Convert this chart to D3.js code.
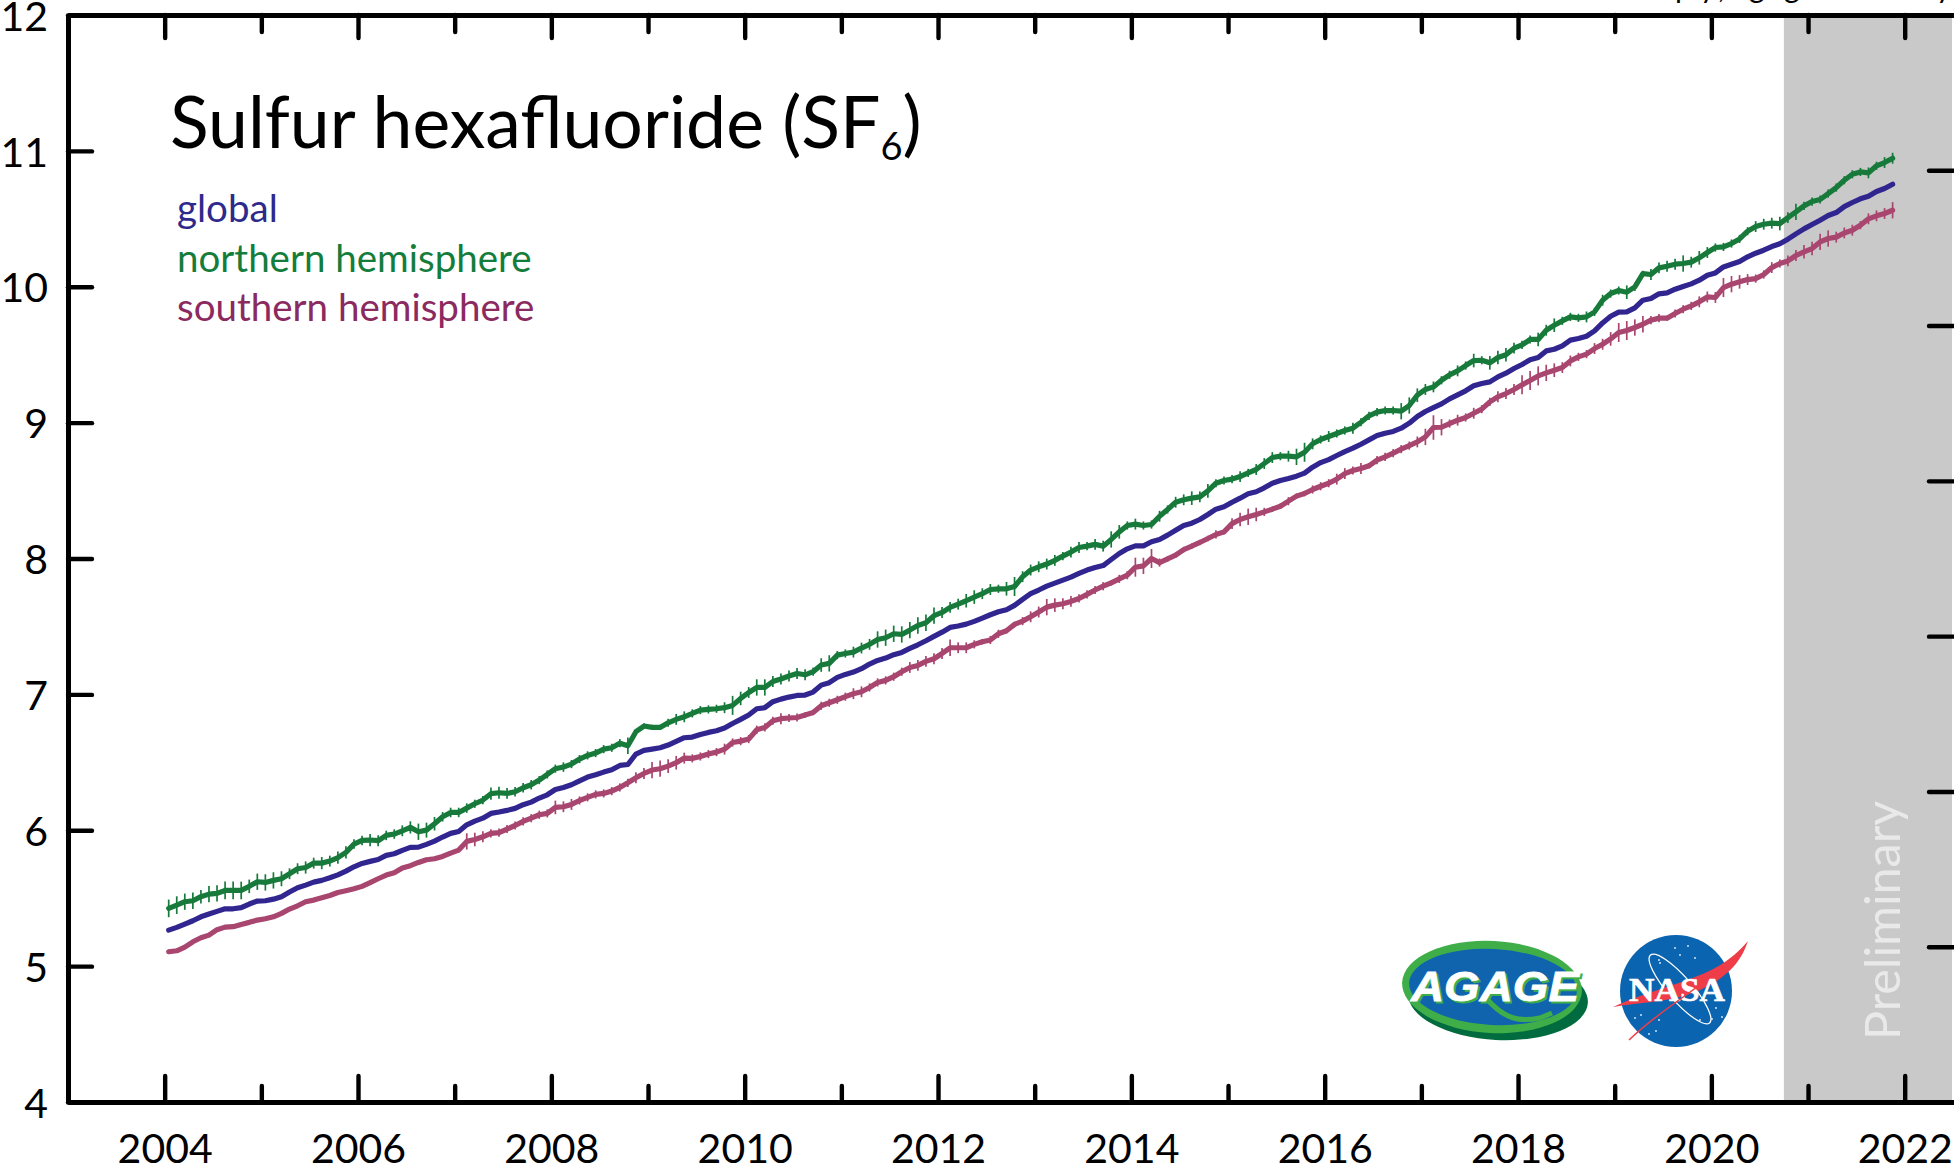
<!DOCTYPE html>
<html>
<head>
<meta charset="utf-8">
<title>Sulfur hexafluoride</title>
<script src="https://cdn.jsdelivr.net/npm/d3@7"></script>
<style>
  html, body { margin: 0; padding: 0; background: #fff; }
  svg { display: block; font-family: Lato, "Open Sans", sans-serif; }
</style>
</head>
<body>
<div id="chart"></div>
<script>
// monthly SF6 mole fractions (ppt), first value is January 2004
const globalValues = [
  5.265,5.285,5.309,5.334,5.363,5.383,5.403,5.422,5.422,5.430,5.457,5.479,
  5.481,5.493,5.511,5.545,5.577,5.596,5.618,5.631,5.650,5.672,5.699,5.731,
  5.756,5.771,5.785,5.815,5.827,5.852,5.874,5.876,5.896,5.920,5.950,5.977,
  5.991,6.040,6.067,6.089,6.124,6.134,6.146,6.161,6.188,6.207,6.237,6.261,
  6.300,6.315,6.335,6.364,6.391,6.408,6.428,6.445,6.477,6.484,
  6.561,6.588,6.597,6.607,6.627,6.654,6.681,6.686,6.705,6.720,6.732,6.752,
  6.786,6.816,6.848,6.894,6.902,6.946,6.965,6.980,6.992,6.995,7.017,7.068,
  7.086,7.125,7.147,7.164,7.189,7.223,7.250,7.267,7.292,7.309,7.338,7.365,
  7.395,7.427,7.458,7.493,7.503,7.517,7.537,7.561,7.586,7.608,7.623,7.655,
  7.699,7.741,7.768,7.797,7.819,7.841,7.863,7.890,7.915,7.934,
  7.948,7.993,8.037,8.071,8.093,8.093,8.123,8.140,8.172,8.208,8.243,8.260,
  8.287,8.324,8.363,8.380,8.414,8.444,8.476,8.491,8.520,8.554,8.574,8.589,
  8.606,8.628,8.672,8.706,8.728,8.758,8.787,8.812,8.841,8.873,8.905,8.922,
  8.935,8.959,8.996,9.045,9.082,9.111,9.138,9.175,9.204,9.234,9.271,9.288,
  9.300,9.337,9.364,9.398,9.428,9.462,9.479,9.528,
  9.540,9.565,9.607,9.619,9.636,9.675,9.734,9.783,9.813,9.815,9.845,9.901,
  9.913,9.948,9.955,9.982,10.002,10.021,10.048,10.085,10.102,10.146,10.166,10.186,
  10.220,10.247,10.269,10.296,10.316,10.350,10.389,10.426,10.458,10.490,10.524,10.546,
  10.590,10.620,10.647,10.666,10.701,10.723,10.755
];
const northValues = [
  5.425,5.449,5.474,5.481,5.511,5.530,5.535,5.557,5.557,5.557,5.587,5.621,
  5.616,5.631,5.643,5.680,5.717,5.726,5.758,5.758,5.773,5.798,5.837,5.898,
  5.925,5.928,5.923,5.962,5.972,5.996,6.021,5.989,6.001,6.048,6.099,6.131,
  6.131,6.163,6.195,6.222,6.269,6.276,6.271,6.283,6.313,6.335,6.369,6.411,
  6.453,6.465,6.487,6.524,6.551,6.568,6.597,6.607,6.641,6.622,
  6.725,6.767,6.757,6.757,6.791,6.816,6.835,6.860,6.884,6.889,6.894,6.902,
  6.919,6.970,7.014,7.051,7.051,7.095,7.113,7.135,7.154,7.144,7.167,7.216,
  7.228,7.289,7.301,7.311,7.341,7.368,7.404,7.417,7.446,7.441,7.473,7.507,
  7.527,7.579,7.603,7.640,7.664,7.689,7.716,7.741,7.772,7.777,7.777,7.794,
  7.866,7.915,7.939,7.959,7.986,8.018,8.047,8.081,8.091,8.104,
  8.091,8.140,8.196,8.243,8.253,8.243,8.250,8.311,8.361,8.414,8.432,8.444,
  8.454,8.498,8.554,8.574,8.584,8.603,8.630,8.655,8.699,8.743,8.753,8.753,
  8.748,8.782,8.844,8.876,8.898,8.920,8.942,8.959,9.003,9.050,9.077,9.089,
  9.089,9.084,9.126,9.202,9.244,9.263,9.312,9.352,9.381,9.420,9.457,9.459,
  9.440,9.479,9.499,9.548,9.572,9.612,9.612,9.680,
  9.717,9.749,9.778,9.771,9.778,9.815,9.901,9.950,9.972,9.960,9.999,10.097,
  10.090,10.139,10.151,10.166,10.171,10.181,10.213,10.252,10.289,10.293,10.318,10.352,
  10.409,10.443,10.460,10.468,10.465,10.509,10.551,10.595,10.627,10.642,10.686,10.730,
  10.784,10.828,10.845,10.838,10.890,10.914,10.946
];
const southValues = [
  5.106,5.113,5.140,5.179,5.209,5.228,5.268,5.287,5.290,5.307,5.322,5.339,
  5.349,5.363,5.388,5.420,5.444,5.474,5.486,5.503,5.520,5.542,5.555,5.569,
  5.587,5.614,5.643,5.670,5.687,5.722,5.739,5.763,5.783,5.790,5.807,5.832,
  5.854,5.918,5.932,5.952,5.977,5.982,6.009,6.035,6.065,6.089,6.114,6.124,
  6.168,6.173,6.190,6.219,6.242,6.264,6.271,6.288,6.315,6.349,
  6.386,6.418,6.443,6.453,6.472,6.497,6.531,6.529,6.543,6.561,6.575,6.597,
  6.646,6.656,6.671,6.740,6.757,6.806,6.821,6.826,6.830,6.848,6.867,6.916,
  6.938,6.960,6.983,7.005,7.019,7.051,7.088,7.103,7.130,7.167,7.198,7.213,
  7.243,7.262,7.301,7.343,7.343,7.343,7.368,7.387,7.400,7.446,7.468,7.515,
  7.539,7.571,7.606,7.642,7.657,7.667,7.684,7.706,7.736,7.768,
  7.796,7.821,7.850,7.877,7.936,7.946,8.000,7.970,7.997,8.024,8.066,8.091,
  8.118,8.147,8.177,8.196,8.257,8.287,8.307,8.324,8.343,8.363,8.385,8.422,
  8.459,8.478,8.508,8.532,8.554,8.584,8.625,8.648,8.662,8.682,8.724,8.748,
  8.775,8.805,8.831,8.858,8.895,8.964,8.966,8.993,9.018,9.038,9.069,9.099,
  9.153,9.190,9.214,9.244,9.278,9.310,9.344,9.366,
  9.386,9.405,9.454,9.484,9.504,9.545,9.577,9.616,9.663,9.678,9.700,9.724,
  9.754,9.769,9.769,9.803,9.835,9.859,9.889,9.925,9.921,9.994,10.019,10.036,
  10.053,10.060,10.090,10.141,10.171,10.190,10.230,10.257,10.281,10.330,10.355,10.365,
  10.396,10.416,10.453,10.500,10.522,10.539,10.563
];
// half length of the error bars (ppt)
const northErrors = [
  .065,.065,.06,.06,.05,.06,.06,.065,.065,.065,.05,.06,.06,.06,.055,.04,.04,.045,.04,.045,
  .04,.045,.045,.035,.035,.045,.04,.035,.035,.04,.045,.06,.055,.05,.035,.035,.035,.035,.03,.03,
  .045,.045,.04,.035,.035,.035,.03,.03,.03,.035,.03,.03,.03,.03,.03,.03,.03,.06,
  .02,.02,.02,.02,.03,.04,.04,.03,.03,.03,.03,.04,.07,.05,.04,.06,.06,.04,.04,.04,
  .04,.04,.03,.05,.06,.03,.03,.04,.04,.04,.06,.06,.06,.06,.06,.06,.06,.06,.04,.04,
  .04,.05,.05,.04,.04,.03,.05,.07,.04,.04,.04,.04,.04,.03,.04,.04,.03,.04,
  .04,.06,.05,.03,.04,.03,.03,.04,.03,.04,.04,.05,.04,.05,.03,.03,.03,.04,.03,.04,
  .04,.04,.03,.04,.06,.07,.04,.03,.04,.03,.03,.04,.03,.03,.03,.03,.03,.06,.06,.05,
  .04,.04,.03,.03,.04,.03,.05,.03,.05,.05,.05,.04,.03,.03,.05,.04,
  .05,.03,.03,.03,.04,.03,.04,.03,.03,.05,.03,.02,.04,.04,.04,.04,.06,.04,.05,.04,
  .03,.03,.03,.03,.03,.04,.04,.04,.05,.04,.06,.03,.03,.03,.03,.03,.03,.03,.03,.04,
  .03,.04,.04
];
const southErrors = [
  .015,.015,.015,.015,.015,.015,.015,.015,.015,.015,.015,.015,.015,.015,.015,.015,.015,.015,.015,.015,
  .015,.015,.015,.015,.015,.015,.015,.015,.015,.015,.015,.015,.015,.015,.015,.015,.015,.06,.05,.04,
  .03,.03,.03,.03,.03,.03,.03,.03,.05,.04,.04,.03,.03,.03,.03,.03,.03,.03,
  .04,.04,.06,.06,.05,.05,.04,.03,.03,.03,.03,.04,.03,.03,.03,.03,.03,.03,.04,.03,
  .03,.02,.02,.03,.03,.03,.03,.04,.04,.03,.03,.03,.03,.03,.04,.04,.04,.04,.04,.06,
  .04,.04,.03,.02,.03,.03,.02,.02,.03,.04,.04,.06,.05,.04,.04,.03,.03,.03,
  .03,.02,.03,.03,.07,.06,.07,.03,.02,.02,.02,.02,.02,.02,.03,.02,.04,.05,.06,.05,
  .03,.02,.02,.03,.02,.02,.03,.03,.03,.04,.04,.03,.04,.02,.03,.03,.03,.03,.03,.04,
  .06,.09,.06,.03,.04,.03,.04,.03,.03,.04,.04,.04,.07,.07,.07,.06,
  .05,.04,.04,.03,.03,.04,.04,.05,.07,.07,.06,.06,.03,.03,.02,.03,.03,.03,.04,.04,
  .04,.07,.06,.05,.04,.03,.03,.04,.03,.04,.04,.05,.05,.06,.06,.04,.04,.04,.03,.04,
  .04,.04,.06
];
const yTicks = [4, 5, 6, 7, 8, 9, 10, 11, 12];
const rightTicks = [0, 1, 2, 3, 4, 5, 6, 7];
const majorYears = [2004, 2006, 2008, 2010, 2012, 2014, 2016, 2018, 2020, 2022];
const minorYears = [2005, 2007, 2009, 2011, 2013, 2015, 2017, 2019, 2021];
const legendLabels = ["global", "northern hemisphere", "southern hemisphere"];
const firstYear = 2004;
const preliminaryStart = 2020.75;

const width = 1954;
const height = 1171;
const plot = { left: 68, right: 1954, top: 15, bottom: 1102 };

const svg = d3.select("#chart").append("svg").attr("width", width).attr("height", height);

const xScale = d3.scaleLinear().domain([2003, 2022.51]).range([plot.left, plot.right]);
const yScale = d3.scaleLinear().domain([4, 12]).range([plot.bottom, plot.top]);
const rightScale = d3.scaleLinear().domain([0, 7]).range([plot.bottom, plot.top]);

// mid month
const monthX = (i) => xScale(firstYear + (i + 0.5) / 12);

// preliminary band
svg.append("rect")
  .attr("x", xScale(preliminaryStart))
  .attr("y", plot.top)
  .attr("width", 1952 - xScale(preliminaryStart))
  .attr("height", plot.bottom - plot.top)
  .attr("fill", "#c9c9c9");

svg.append("text")
  .attr("transform", "translate(1900,1040) rotate(-90)")
  .attr("font-size", 48.5)
  .attr("fill", "#e9e9e9")
  .text("Preliminary");

// series
const lineGen = d3.line().x((d, i) => monthX(i)).y((d) => yScale(d));

function drawErrors(values, errors, color) {
  svg.append("g")
    .selectAll("line")
    .data(values)
    .join("line")
    .attr("x1", (d, i) => monthX(i))
    .attr("x2", (d, i) => monthX(i))
    .attr("y1", (d, i) => yScale(d - errors[i]))
    .attr("y2", (d, i) => yScale(d + errors[i]))
    .attr("stroke", color)
    .attr("stroke-width", 1.7);
}

function drawLine(values, color) {
  svg.append("path")
    .datum(values)
    .attr("d", lineGen)
    .attr("fill", "none")
    .attr("stroke", color)
    .attr("stroke-width", 5.2)
    .attr("stroke-linejoin", "round")
    .attr("stroke-linecap", "round");
}

drawErrors(northValues, northErrors, "#177a3a");
drawErrors(southValues, southErrors, "#a8466f");
drawLine(southValues, "#a8466f");
drawLine(northValues, "#177a3a");
drawLine(globalValues, "#31268f");

// axes
function styleAxis(g) {
  g.selectAll("path.domain").attr("stroke", "#000").attr("stroke-width", 5);
  g.selectAll(".tick line").attr("stroke", "#000").attr("stroke-width", 4.4).attr("stroke-linecap", "round");
  g.selectAll(".tick text").attr("fill", "#000").attr("font-family", "Lato").attr("font-size", 41);
}

svg.append("g").attr("transform", `translate(${plot.left},0)`)
  .call(d3.axisLeft(yScale).tickValues(yTicks).tickSize(-24).tickSizeOuter(0).tickPadding(20))
  .call(styleAxis)
  .call((g) => g.selectAll(".tick text").attr("dy", "0.37em"));

svg.append("g").attr("transform", `translate(${plot.right},0)`)
  .call(d3.axisRight(rightScale).tickValues(rightTicks).tickSize(-25).tickSizeOuter(0).tickFormat(""))
  .call(styleAxis)
  .call((g) => g.select("path.domain").remove());

svg.append("g").attr("transform", `translate(0,${plot.bottom})`)
  .call(d3.axisBottom(xScale).tickValues(majorYears).tickSize(-26).tickSizeOuter(0).tickPadding(32).tickFormat(d3.format("d")))
  .call(styleAxis);
svg.append("g").attr("transform", `translate(0,${plot.bottom})`)
  .call(d3.axisBottom(xScale).tickValues(minorYears).tickSize(-16).tickSizeOuter(0).tickFormat(""))
  .call(styleAxis);
svg.append("g").attr("transform", `translate(0,${plot.top})`)
  .call(d3.axisTop(xScale).tickValues(majorYears).tickSize(-23).tickSizeOuter(0).tickFormat(""))
  .call(styleAxis);
svg.append("g").attr("transform", `translate(0,${plot.top})`)
  .call(d3.axisTop(xScale).tickValues(minorYears).tickSize(-17).tickSizeOuter(0).tickFormat(""))
  .call(styleAxis);

// title
const title = svg.append("text")
  .attr("x", 170)
  .attr("y", 148)
  .attr("font-size", 71.5)
  .attr("fill", "#000")
  .text("Sulfur hexafluoride (SF");
title.append("tspan").attr("font-size", 38).attr("dy", 12).text("6");
title.append("tspan").attr("dy", -12).text(")");

// legend
const legendColors = ["#2e2a8c", "#157d3c", "#8b2a5f"];
svg.append("g")
  .selectAll("text")
  .data(legendLabels)
  .join("text")
  .attr("x", 177)
  .attr("y", (d, i) => 222 + i * 49.5)
  .attr("font-size", 38.5)
  .attr("fill", (d, i) => legendColors[i])
  .text((d) => d);

// text cut off by the top edge in the source image
const cutLetters = [["p", 1675], ["y", 1700], [",", 1718], ["g", 1749], ["g", 1784], ["y", 1936]];
svg.append("g")
  .selectAll("text")
  .data(cutLetters)
  .join("text")
  .attr("x", (d) => d[1])
  .attr("y", -2)
  .attr("font-size", 30)
  .attr("fill", "#000")
  .text((d) => d[0]);

// AGAGE logo
const agage = svg.append("g");
agage.append("ellipse").attr("cx", 1498).attr("cy", 998).attr("rx", 90).attr("ry", 42).attr("fill", "#006b3f").attr("transform", "rotate(3 1498 998)");
agage.append("ellipse").attr("cx", 1492).attr("cy", 987).attr("rx", 90).attr("ry", 46).attr("fill", "#3fae49").attr("transform", "rotate(3 1492 987)");
agage.append("ellipse").attr("cx", 1493).attr("cy", 987).attr("rx", 84).attr("ry", 38).attr("fill", "#1064ae").attr("transform", "rotate(3 1493 987)");
agage.append("path")
  .attr("d", "M1486,998 C1505,1020 1520,1022 1540,1018 L1552,1013")
  .attr("fill", "none").attr("stroke", "#3fae49").attr("stroke-width", 5);
const agageText = (dx, dy, color) => agage.append("text")
  .attr("x", 1411 + dx)
  .attr("y", 1001 + dy)
  .attr("font-family", "Liberation Sans")
  .attr("font-weight", "bold")
  .attr("font-style", "italic")
  .attr("font-size", 42)
  .attr("textLength", 168)
  .attr("lengthAdjust", "spacingAndGlyphs")
  .attr("fill", color)
  .attr("stroke", color)
  .attr("stroke-width", 0.8)
  .text("AGAGE");
agageText(2, 2, "#3fae49");
agageText(0, 0, "#fff");

// NASA logo
const nasaStars = [[1688, 946], [1675, 948], [1680, 955], [1659, 960], [1700, 1020], [1716, 1008], [1722, 1017], [1712, 1019],
  [1641, 1015], [1635, 1018], [1656, 1031], [1659, 1020], [1649, 1034], [1660, 963], [1695, 958]];
const nasa = svg.append("g");
nasa.append("circle").attr("cx", 1676).attr("cy", 991).attr("r", 56).attr("fill", "#0b64b0");
nasa.selectAll("circle.star").data(nasaStars).join("circle")
  .attr("class", "star").attr("cx", (d) => d[0]).attr("cy", (d) => d[1]).attr("r", 1).attr("fill", "#cfe2f3");
nasa.append("ellipse").attr("cx", 1680).attr("cy", 989).attr("rx", 45).attr("ry", 12)
  .attr("fill", "none").attr("stroke", "#fff").attr("stroke-width", 1.3)
  .attr("transform", "rotate(49 1680 989)");
nasa.append("path")
  .attr("d", "M1613,1007 C1650,990 1690,982 1715,968 C1730,960 1740,950 1748,941 C1740,965 1725,978 1700,990 C1670,1003 1640,1002 1613,1007 Z")
  .attr("fill", "#ee3d48");
nasa.append("text").attr("x", 1629).attr("y", 1001)
  .attr("font-family", "Liberation Serif").attr("font-weight", "bold").attr("font-size", 33)
  .attr("textLength", 96).attr("lengthAdjust", "spacingAndGlyphs").attr("fill", "#fff")
  .attr("stroke", "#fff").attr("stroke-width", 0.6).text("NASA");
nasa.append("path")
  .attr("d", "M1629,1040 C1660,1010 1690,995 1725,965")
  .attr("fill", "none").attr("stroke", "#ee3d48").attr("stroke-width", 1.5);
</script>
</body>
</html>
